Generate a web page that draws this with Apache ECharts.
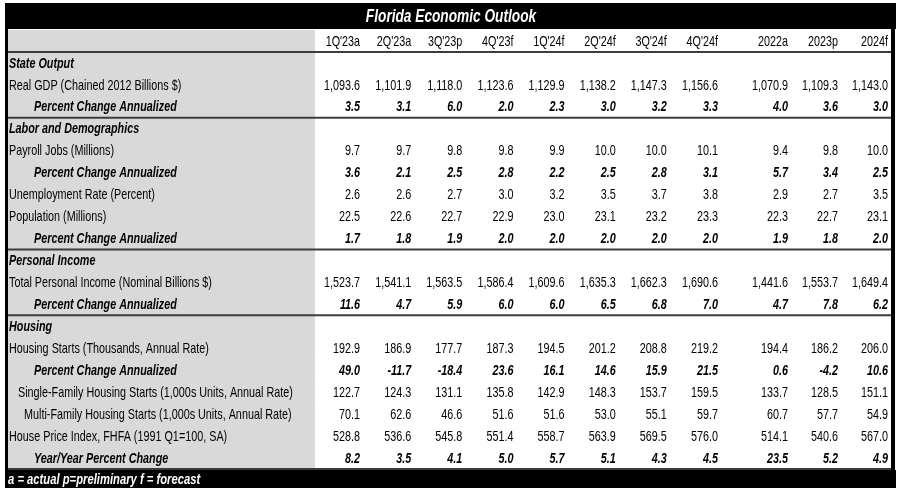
<!DOCTYPE html>
<html><head><meta charset="utf-8">
<script src="https://cdn.jsdelivr.net/npm/echarts@6/dist/echarts.min.js"></script>
<style>html,body{margin:0;padding:0;background:#fff}#c{width:900px;height:492px}</style>
</head><body><div id="c"></div>
<script>
// ---------- data ----------
const titleText = "Florida Economic Outlook";
const footnote = "a = actual p=preliminary f = forecast";
const quarterCols = ["1Q'23a","2Q'23a","3Q'23p","4Q'23f","1Q'24f","2Q'24f","3Q'24f","4Q'24f"];
const annualCols = ["2022a","2023p","2024f"];

const rowLabels = [
  "State Output",
  "Real GDP (Chained 2012 Billions $)",
  "Percent Change Annualized",
  "Labor and Demographics",
  "Payroll Jobs (Millions)",
  "Percent Change Annualized",
  "Unemployment Rate (Percent)",
  "Population (Millions)",
  "Percent Change Annualized",
  "Personal Income",
  "Total Personal Income (Nominal Billions $)",
  "Percent Change Annualized",
  "Housing",
  "Housing Starts (Thousands, Annual Rate)",
  "Percent Change Annualized",
  "   Single-Family Housing Starts (1,000s Units, Annual Rate)",
  "     Multi-Family Housing Starts (1,000s Units, Annual Rate)",
  "House Price Index, FHFA (1991 Q1=100, SA)",
  "Year/Year Percent Change"
];
const rowKinds = ["section","level","change","section","level","change","level","level","change",
                  "section","level","change","section","level","change","level","level","level","change"];

// values: 8 quarters then 3 years
const realGDP    = [1093.6,1101.9,1118.0,1123.6,1129.9,1138.2,1147.3,1156.6, 1070.9,1109.3,1143.0];
const realGDPPct = [3.5,3.1,6.0,2.0,2.3,3.0,3.2,3.3, 4.0,3.6,3.0];
const payroll    = [9.7,9.7,9.8,9.8,9.9,10.0,10.0,10.1, 9.4,9.8,10.0];
const payrollPct = [3.6,2.1,2.5,2.8,2.2,2.5,2.8,3.1, 5.7,3.4,2.5];
const unemp      = [2.6,2.6,2.7,3.0,3.2,3.5,3.7,3.8, 2.9,2.7,3.5];
const population = [22.5,22.6,22.7,22.9,23.0,23.1,23.2,23.3, 22.3,22.7,23.1];
const popPct     = [1.7,1.8,1.9,2.0,2.0,2.0,2.0,2.0, 1.9,1.8,2.0];
const income     = [1523.7,1541.1,1563.5,1586.4,1609.6,1635.3,1662.3,1690.6, 1441.6,1553.7,1649.4];
const incomePct  = [11.6,4.7,5.9,6.0,6.0,6.5,6.8,7.0, 4.7,7.8,6.2];
const starts     = [192.9,186.9,177.7,187.3,194.5,201.2,208.8,219.2, 194.4,186.2,206.0];
const startsPct  = [49.0,-11.7,-18.4,23.6,16.1,14.6,15.9,21.5, 0.6,-4.2,10.6];
const singleFam  = [122.7,124.3,131.1,135.8,142.9,148.3,153.7,159.5, 133.7,128.5,151.1];
const multiFam   = [70.1,62.6,46.6,51.6,51.6,53.0,55.1,59.7, 60.7,57.7,54.9];
const hpi        = [528.8,536.6,545.8,551.4,558.7,563.9,569.5,576.0, 514.1,540.6,567.0];
const hpiPct     = [8.2,3.5,4.1,5.0,5.7,5.1,4.3,4.5, 23.5,5.2,4.9];

const rowValues = [null, realGDP, realGDPPct, null, payroll, payrollPct, unemp, population, popPct,
                   null, income, incomePct, null, starts, startsPct, singleFam, multiFam, hpi, hpiPct];

// ---------- rendering ----------
const FONT = '"Liberation Sans", Arial, sans-serif';
const SX = 0.72;
const GRAY = '#d9d9d9';
function fmt(v){ return v.toLocaleString('en-US',{minimumFractionDigits:1,maximumFractionDigits:1}); }
function fontFor(kind){
  return (kind === 'section' || kind === 'change') ? 'italic bold 15px ' + FONT : '15px ' + FONT;
}
const rowIds = ['hdr'].concat(rowLabels.map((_, i) => 'r' + i));

function buildCells(cols, offset){
  const cells = [];
  cols.forEach((name, c) => cells.push({c, r: 0, text: name, kind: 'header'}));
  rowValues.forEach((vals, i) => {
    if (!vals) return;
    cols.forEach((_, c) => cells.push({c, r: i + 1, text: fmt(vals[offset + c]), kind: rowKinds[i]}));
  });
  return cells;
}
const qCells = buildCells(quarterCols, 0);
const aCells = buildCells(annualCols, quarterCols.length);

function valueRenderer(cells){
  return function(params, api){
    const cell = cells[params.dataIndex];
    const p = api.coord([cell.c, cell.r]);
    const bw = api.size([1, 1])[0];
    return {type: 'text', x: p[0] + bw / 2 - 1, y: p[1] + 0.5, scaleX: SX,
      style: {text: cell.text, fill: '#000', font: fontFor(cell.kind),
              align: 'right', verticalAlign: 'middle', textAlign: 'right', textVerticalAlign: 'middle'}};
  };
}

function labelRenderer(params, api){
  const r = params.dataIndex;
  const p = api.coord([0, r]);
  const s = api.size([1, 1]);
  const left = p[0] - s[0] / 2, top = p[1] - s[1] / 2;
  const children = [{type: 'rect', shape: {x: left, y: top, width: s[0], height: s[1] + 0.6},
                     style: {fill: GRAY}}];
  if (r > 0){
    const kind = rowKinds[r - 1];
    const indent = kind === 'change' ? 25 : 0;
    children.push({type: 'text', x: left + 3 + indent, y: p[1] + 0.5, scaleX: SX,
      style: {text: rowLabels[r - 1], fill: '#000', font: fontFor(kind),
              align: 'left', verticalAlign: 'middle', textAlign: 'left', textVerticalAlign: 'middle'}});
  }
  return {type: 'group', children};
}

// separator lines: under header, and at the end of each section
const sepRows = [0];
rowKinds.forEach((k, i) => { if (i === rowKinds.length - 1 || rowKinds[i + 1] === 'section') sepRows.push(i + 1); });

function ruleRenderer(params, api){
  const r = sepRows[params.dataIndex];
  const p = api.coord([0, r]);
  const s = api.size([1, 1]);
  const y = p[1] + s[1] / 2;
  return {type: 'line', shape: {x1: p[0] - s[0] / 2, y1: y, x2: api.getWidth() - 9, y2: y},
          style: {stroke: '#3c3c3c', lineWidth: 2}};
}

const TOP = 30, H = 439;
const option = {
  animation: false,
  backgroundColor: '#fff',
  grid: [
    {left: 6, top: TOP, width: 309, height: H},
    {left: 310, top: TOP, width: 409, height: H},
    {left: 739, top: TOP, width: 150, height: H}
  ],
  xAxis: [
    {type: 'category', gridIndex: 0, data: ['label'], show: false},
    {type: 'category', gridIndex: 1, data: quarterCols, show: false},
    {type: 'category', gridIndex: 2, data: annualCols, show: false}
  ],
  yAxis: [0, 1, 2].map(g => ({type: 'category', gridIndex: g, data: rowIds, inverse: true, show: false})),
  series: [
    {type: 'custom', xAxisIndex: 0, yAxisIndex: 0, z: 1, renderItem: labelRenderer,
     data: rowIds.map((_, r) => [0, r])},
    {type: 'custom', xAxisIndex: 1, yAxisIndex: 1, z: 2, renderItem: valueRenderer(qCells),
     data: qCells.map(d => [d.c, d.r])},
    {type: 'custom', xAxisIndex: 2, yAxisIndex: 2, z: 2, renderItem: valueRenderer(aCells),
     data: aCells.map(d => [d.c, d.r])},
    {type: 'custom', xAxisIndex: 0, yAxisIndex: 0, z: 3, renderItem: ruleRenderer,
     data: sepRows.map(r => [0, r])}
  ],
  graphic: [
    {type: 'rect', z: 10, shape: {x: 5, y: 3, width: 891, height: 26}, style: {fill: '#000'}},
    {type: 'text', z: 11, x: 451, y: 17, scaleX: 0.76,
     style: {text: titleText, fill: '#fff', font: 'italic bold 18px ' + FONT,
             align: 'center', verticalAlign: 'middle', textAlign: 'center', textVerticalAlign: 'middle'}},
    {type: 'rect', z: 10, shape: {x: 5, y: 470, width: 891, height: 18}, style: {fill: '#000'}},
    {type: 'text', z: 11, x: 8, y: 479.5, scaleX: 0.75,
     style: {text: footnote, fill: '#fff', font: 'italic bold 15px ' + FONT,
             align: 'left', verticalAlign: 'middle', textAlign: 'left', textVerticalAlign: 'middle'}},
    {type: 'rect', z: 10, shape: {x: 5, y: 3, width: 3, height: 485}, style: {fill: '#000'}},
    {type: 'rect', z: 10, shape: {x: 891, y: 3, width: 4, height: 485}, style: {fill: '#000'}}
  ]
};
const chart = echarts.init(document.getElementById('c'));
chart.setOption(option);
</script>
</body></html>
